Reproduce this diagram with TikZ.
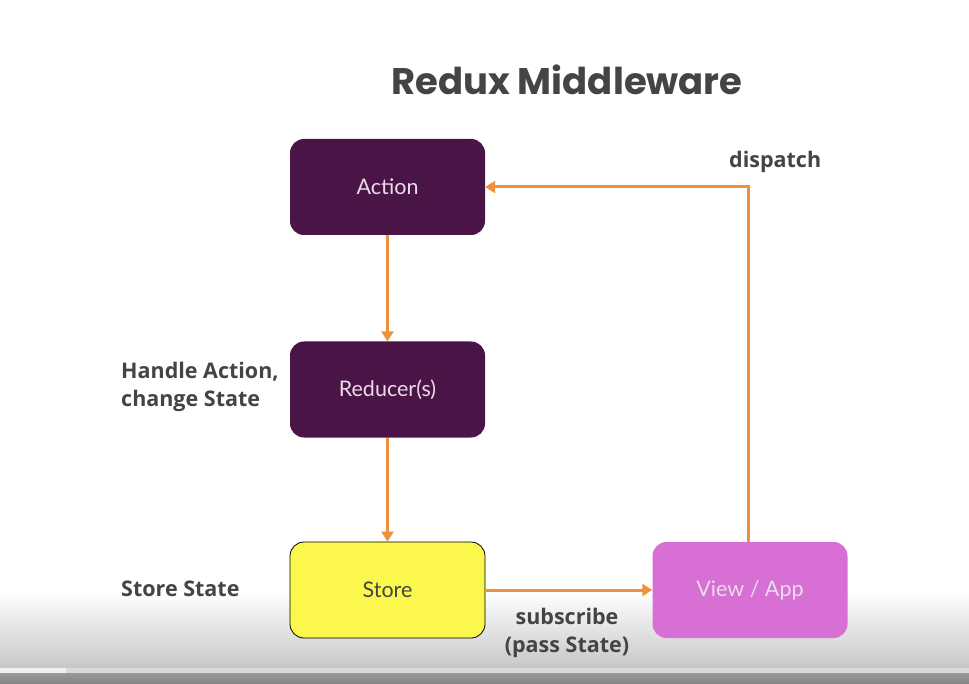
\documentclass[tikz,border=0pt]{standalone}
\usepackage{fontspec}
\setmainfont{Lato}
\newfontfamily\titlefont{Poppins}
\newfontfamily\labelfont{Open Sans}
\usetikzlibrary{arrows.meta,positioning}
\definecolor{plum}{HTML}{4A1447}
\definecolor{boxtext}{HTML}{EADCEA}
\definecolor{yel}{HTML}{FBF74C}
\definecolor{viewc}{HTML}{D86FD5}
\definecolor{orng}{HTML}{F0913D}
\definecolor{ink}{HTML}{444444}
\tikzset{
  box/.style={rounded corners=14pt, minimum width=195pt, minimum height=96pt, inner sep=0pt, font=\fontsize{21.5}{24}\selectfont},
  plumbox/.style={box, fill=plum, text=boxtext},
  flow/.style={draw=orng, line width=3pt, -{Triangle[length=10pt,width=12pt]}},
  lbl/.style={text=ink, font=\labelfont\bfseries\fontsize{21.5}{28}\selectfont, inner sep=0pt}
}
\begin{document}
\begin{tikzpicture}[x=1pt,y=-1pt]
\useasboundingbox (0,0) rectangle (969,684);
\fill[white] (0,0) rectangle (969,684);
\shade[top color=white, bottom color=black!22] (0,592) rectangle (969,668);
\fill[black!15] (0,668) rectangle (969,673);
\fill[black!6] (0,668) rectangle (66,673);
\shade[top color=black!40, bottom color=black!48] (0,673) rectangle (969,684);
\node[text=ink, font=\titlefont\bfseries\fontsize{37}{40}\selectfont, inner sep=0pt] (title) at (567,80) {Redux Middleware};
\node[plumbox] (action) at (387.5,187) {Action};
\node[plumbox] (reducer) at (387.5,389.5) {Reducer(s)};
\node[box, fill=yel, draw=black, line width=0.8pt, text=ink] (store) at (387.5,590) {Store};
\node[box, fill=viewc, text=boxtext] (view) at (750,590) {View / App};
\coordinate (corner) at (748,187);
\draw[flow] (action.south) -- (reducer.north);
\draw[flow] (reducer.south) -- (store.north);
\draw[flow] (store.east) -- (view.west);
\draw[flow] (view.north -| corner) -- (corner) -- (action.east);
\node[lbl, anchor=west] (dispatch) at (729,162) {dispatch};
\node[lbl, anchor=west, align=left] (handle) at (121,387) {Handle Action,\\change State};
\node[lbl, anchor=west] (storestate) at (121,589) {Store State};
\node[lbl, align=center] (subscribe) at (567,633) {subscribe\\(pass State)};
\end{tikzpicture}
\end{document}
